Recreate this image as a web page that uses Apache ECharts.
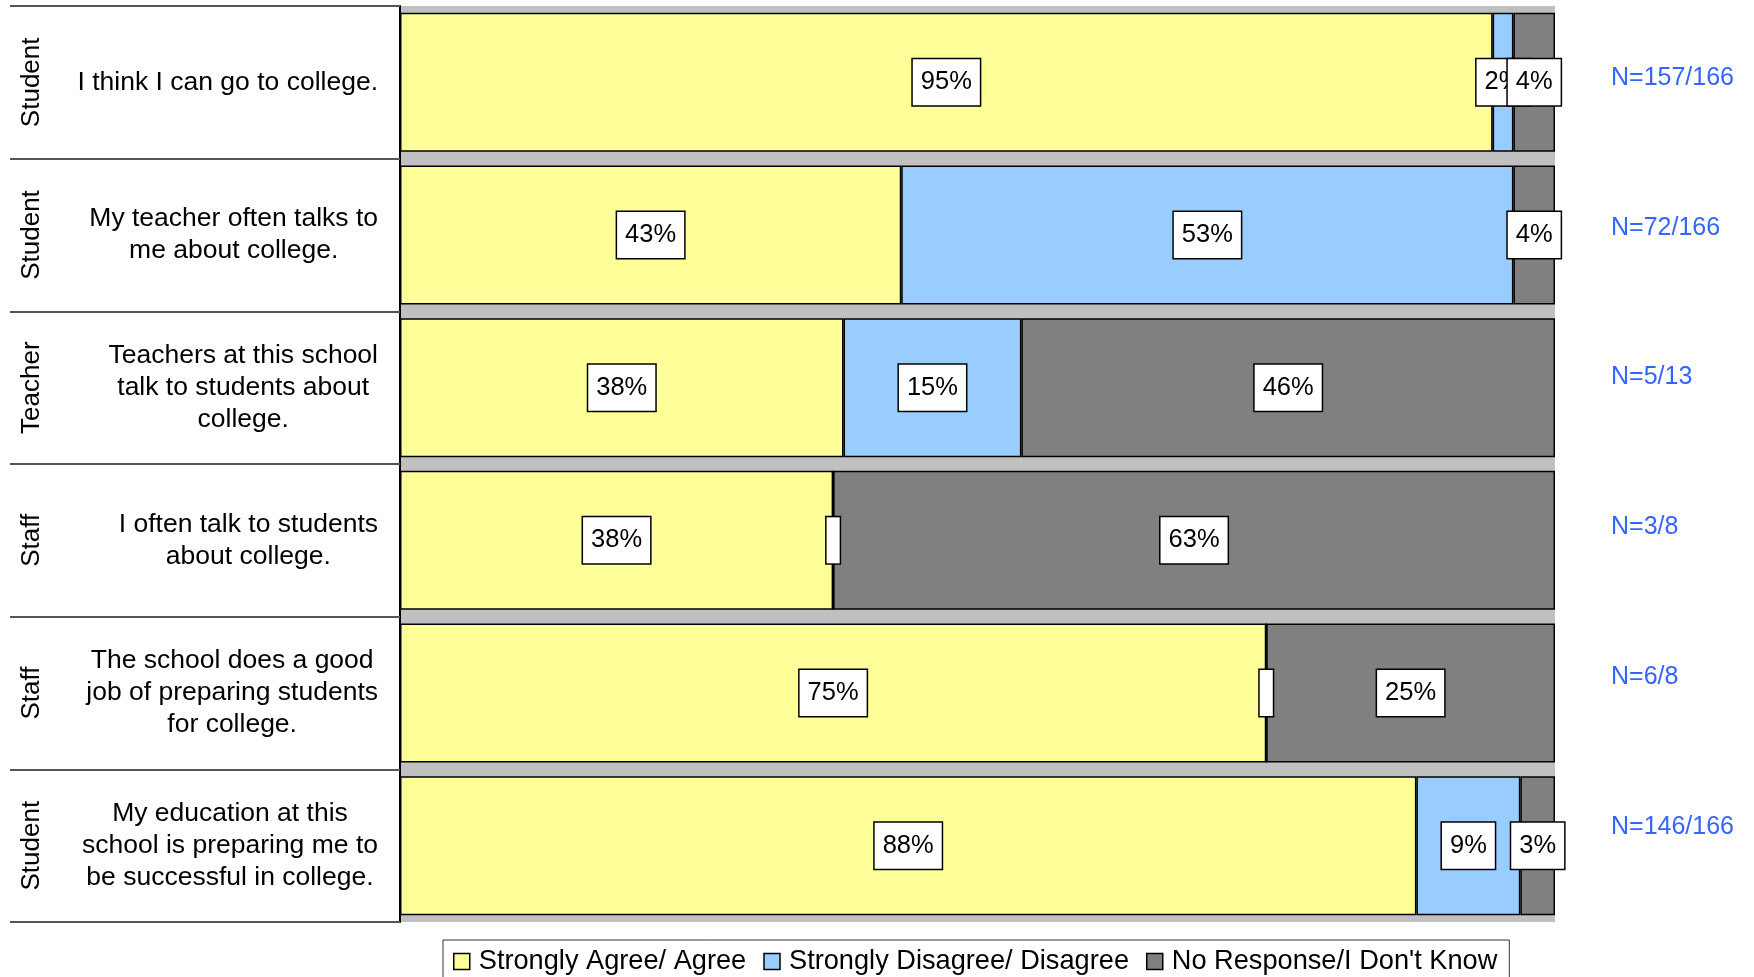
<!DOCTYPE html>
<html>
<head>
<meta charset="utf-8">
<script src="https://cdn.jsdelivr.net/npm/echarts@6/dist/echarts.min.js"></script>
<style>
  html, body { margin: 0; padding: 0; background: #fff; }
  #chart { width: 1754px; height: 977px; }
</style>
</head>
<body>
<div id="chart"></div>
<script>
const questions = [
  'I think I can go to college.',
  'My teacher often talks to\nme about college.',
  'Teachers at this school\ntalk to students about\ncollege.',
  'I often talk to students\nabout college.',
  'The school does a good\njob of preparing students\nfor college.',
  'My education at this\nschool is preparing me to\nbe successful in college.'
]
const roles = ['Student', 'Student', 'Teacher', 'Staff', 'Staff', 'Student']
const nLabels = ['N=157/166', 'N=72/166', 'N=5/13', 'N=3/8', 'N=6/8', 'N=146/166']

const agree = [94.6, 43.4, 38.4, 37.5, 75.0, 88.0]
const disagree = [1.8, 53.0, 15.4, 0, 0, 9.0]
const noResponse = [3.6, 3.6, 46.2, 62.5, 25.0, 3.0]

const FONT = '"Liberation Sans", Arial, sans-serif'

const chart = echarts.init(document.getElementById('chart'))

const dataLabel = {
  show: true,
  position: 'inside',
  fontFamily: FONT,
  fontSize: 25.5,
  lineHeight: 26,
  color: '#000',
  backgroundColor: '#fff',
  borderColor: '#000',
  borderWidth: 1.5,
  padding: [10, 8],
  formatter: p => (p.value === 0 ? ' ' : Math.round(p.value) + '%')
}

// zero values still get a small empty label box, like the original
const toData = vals => vals.map(v => (v === 0 ? { value: 0, label: { padding: [10, 3] } } : v))

const makeSeries = (name, vals, color) => ({
  name,
  type: 'bar',
  stack: 'total',
  barCategoryGap: '9%',
  data: toData(vals),
  itemStyle: { color, borderColor: '#000', borderWidth: 1.5 },
  label: dataLabel,
  emphasis: { disabled: true }
})

chart.setOption({
  animation: false,
  textStyle: { fontFamily: FONT },
  grid: [
    { left: 400, right: 199, top: 6, height: 916, show: true, backgroundColor: '#C0C0C0', borderWidth: 0 },
    { left: 1500, width: 103, top: 3, height: 899 }
  ],
  legend: {
    left: 443,
    top: 940,
    padding: [8, 12, 8, 10],
    itemGap: 17,
    itemWidth: 16,
    itemHeight: 16,
    icon: 'rect',
    borderColor: '#333',
    borderWidth: 1,
    itemStyle: { borderColor: '#000', borderWidth: 1.5 },
    textStyle: { fontFamily: FONT, fontSize: 27.2, color: '#000', padding: [0, 0, 0, 4] },
    selectedMode: false
  },
  xAxis: [
    { type: 'value', min: 0, max: 100, show: false, gridIndex: 0 },
    { type: 'value', min: 0, max: 100, show: false, gridIndex: 1 }
  ],
  yAxis: [
    {
      type: 'category',
      gridIndex: 0,
      inverse: true,
      data: questions,
      axisLine: { show: true, lineStyle: { color: '#000', width: 2 } },
      axisTick: { show: true, interval: 0, length: 390, lineStyle: { color: '#555', width: 2 } },
      axisLabel: {
        margin: 22,
        interval: 0,
        formatter: v => v.split('\n').map(l => '{q|' + l + '}').join('\n'),
        rich: { q: { align: 'center', fontFamily: FONT, fontSize: 26.5, lineHeight: 32, color: '#000' } }
      }
    },
    {
      type: 'category',
      gridIndex: 0,
      inverse: true,
      position: 'left',
      offset: 350,
      data: roles,
      axisLine: { show: false },
      axisTick: { show: false },
      axisLabel: { rotate: 90, margin: 5, interval: 0, fontFamily: FONT, fontSize: 26, color: '#000' }
    },
    {
      type: 'category',
      gridIndex: 1,
      inverse: true,
      position: 'right',
      data: nLabels,
      axisLine: { show: false },
      axisTick: { show: false },
      axisLabel: { margin: 8, interval: 0, fontFamily: FONT, fontSize: 25, color: '#3366FF' }
    }
  ],
  series: [
    makeSeries('Strongly Agree/ Agree', agree, '#FFFF99'),
    makeSeries('Strongly Disagree/ Disagree', disagree, '#99CCFF'),
    makeSeries("No Response/I Don't Know", noResponse, '#808080')
  ]
})
</script>
</body>
</html>
